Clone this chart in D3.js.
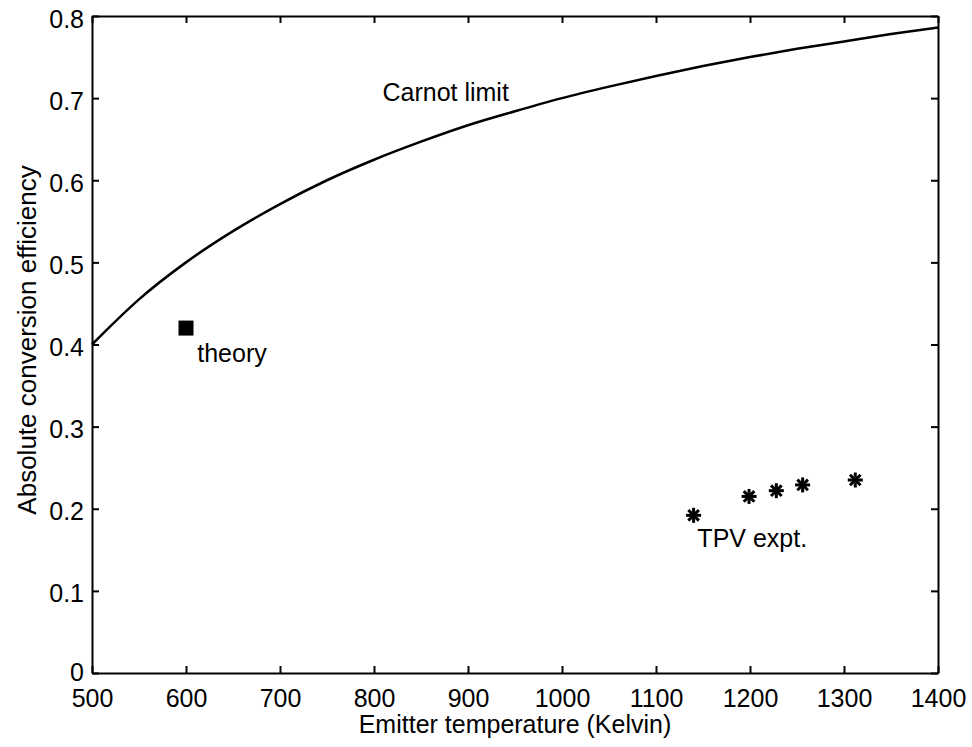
<!DOCTYPE html>
<html>
<head>
<meta charset="utf-8">
<script src="https://cdn.jsdelivr.net/npm/d3@7"></script>
<style>
  body { margin: 0; background: #fff; }
  text { font-family: "Liberation Sans", Arial, sans-serif; fill: #000; }
</style>
</head>
<body>
<div id="chart"></div>
<script>
// Carnot limit curve
var carnotT   = [500, 550, 600, 650, 700, 750, 800, 850, 900, 950, 1000, 1050, 1100, 1150, 1200, 1250, 1300, 1350, 1400];
var carnotEff = [0.400, 0.455, 0.500, 0.538, 0.571, 0.600, 0.625, 0.647, 0.667, 0.684, 0.700, 0.714, 0.727, 0.739, 0.750, 0.760, 0.769, 0.778, 0.786];

// theory point
var theoryT = [600];
var theoryEff = [0.420];

// TPV experiment points
var tpvT   = [1140, 1199, 1228, 1256, 1312];
var tpvEff = [0.192, 0.215, 0.222, 0.229, 0.235];

var xTicks = [500, 600, 700, 800, 900, 1000, 1100, 1200, 1300, 1400];
var yTicks = [0, 0.1, 0.2, 0.3, 0.4, 0.5, 0.6, 0.7, 0.8];

var W = 972, H = 747;
var margin = {top: 16, right: 34, bottom: 74, left: 92};
var width = W - margin.left - margin.right,
    height = H - margin.top - margin.bottom;

var svg = d3.select('#chart').append('svg')
    .attr('width', W)
    .attr('height', H);

var g = svg.append('g')
    .attr('transform', 'translate(' + margin.left + ',' + margin.top + ')');

var x = d3.scaleLinear().domain([500, 1400]).range([0, width]);
var y = d3.scaleLinear().domain([0, 0.8]).range([height, 0]);

var tickLen = 7;

// axes, MATLAB-style box with inward ticks
var xBottom = g.append('g').attr('transform', 'translate(0,' + height + ')')
    .call(d3.axisBottom(x).tickValues(xTicks).tickSizeInner(-tickLen).tickSizeOuter(0).tickPadding(16).tickFormat(d3.format('d')));
var xTop = g.append('g')
    .call(d3.axisTop(x).tickValues(xTicks).tickSizeInner(-tickLen).tickSizeOuter(0).tickFormat(''));
var yLeft = g.append('g')
    .call(d3.axisLeft(y).tickValues(yTicks).tickSizeInner(-tickLen).tickSizeOuter(0).tickPadding(8)
      .tickFormat(function(d) { return d === 0 ? '0' : d3.format('.1f')(d); }));
var yRight = g.append('g').attr('transform', 'translate(' + width + ',0)')
    .call(d3.axisRight(y).tickValues(yTicks).tickSizeInner(-tickLen).tickSizeOuter(0).tickFormat(''));

[xBottom, xTop, yLeft, yRight].forEach(function(a) {
    a.selectAll('path.domain').attr('stroke', '#000').attr('stroke-width', 2);
    a.selectAll('.tick line').attr('stroke', '#000').attr('stroke-width', 2);
    a.selectAll('.tick text').style('font-size', '25px').attr('fill', '#000')
        .style('font-family', '"Liberation Sans", Arial, sans-serif');
});
xBottom.selectAll('.tick text').attr('dy', '0.71em');
yLeft.selectAll('.tick text').attr('dy', function(d) { return d === 0 ? '0.28em' : '0.44em'; });

// axis labels
svg.append('text')
    .attr('x', margin.left + width / 2)
    .attr('y', 733)
    .attr('text-anchor', 'middle')
    .style('font-size', '25px')
    .text('Emitter temperature (Kelvin)');

svg.append('text')
    .attr('transform', 'translate(36,340) rotate(-90)')
    .attr('text-anchor', 'middle')
    .style('font-size', '26px')
    .text('Absolute conversion efficiency');

// Carnot curve
var carnot = carnotT.map(function(t, i) { return {t: t, e: carnotEff[i]}; });
var line = d3.line()
    .x(function(d) { return x(d.t); })
    .y(function(d) { return y(d.e); })
    .curve(d3.curveMonotoneX);

g.append('path')
    .datum(carnot)
    .attr('d', line)
    .attr('fill', 'none')
    .attr('stroke', '#000')
    .attr('stroke-width', 2.5);

// theory square
var sq = 15;
g.selectAll('rect.theory')
    .data(theoryT.map(function(t, i) { return {t: t, e: theoryEff[i]}; }))
    .enter().append('rect')
    .attr('class', 'theory')
    .attr('x', function(d) { return x(d.t) - sq / 2; })
    .attr('y', function(d) { return y(d.e) - sq / 2; })
    .attr('width', sq)
    .attr('height', sq)
    .attr('fill', '#000');

// TPV asterisks
var tpv = tpvT.map(function(t, i) { return {t: t, e: tpvEff[i]}; });
var r = 7.5;
var stars = g.selectAll('g.star')
    .data(tpv)
    .enter().append('g')
    .attr('class', 'star')
    .attr('transform', function(d) { return 'translate(' + x(d.t) + ',' + y(d.e) + ')'; });
[0, 45, 90, 135].forEach(function(a) {
    var rad = a * Math.PI / 180;
    stars.append('line')
        .attr('x1', -r * Math.cos(rad)).attr('y1', -r * Math.sin(rad))
        .attr('x2', r * Math.cos(rad)).attr('y2', r * Math.sin(rad))
        .attr('stroke', '#000')
        .attr('stroke-width', 3);
});

// annotations
g.append('text')
    .attr('x', x(809))
    .attr('y', y(0.697))
    .style('font-size', '25px')
    .text('Carnot limit');

g.append('text')
    .attr('x', x(612))
    .attr('y', y(0.379))
    .style('font-size', '25px')
    .text('theory');

g.append('text')
    .attr('x', x(1144))
    .attr('y', y(0.153))
    .style('font-size', '25px')
    .text('TPV expt.');
</script>
</body>
</html>
